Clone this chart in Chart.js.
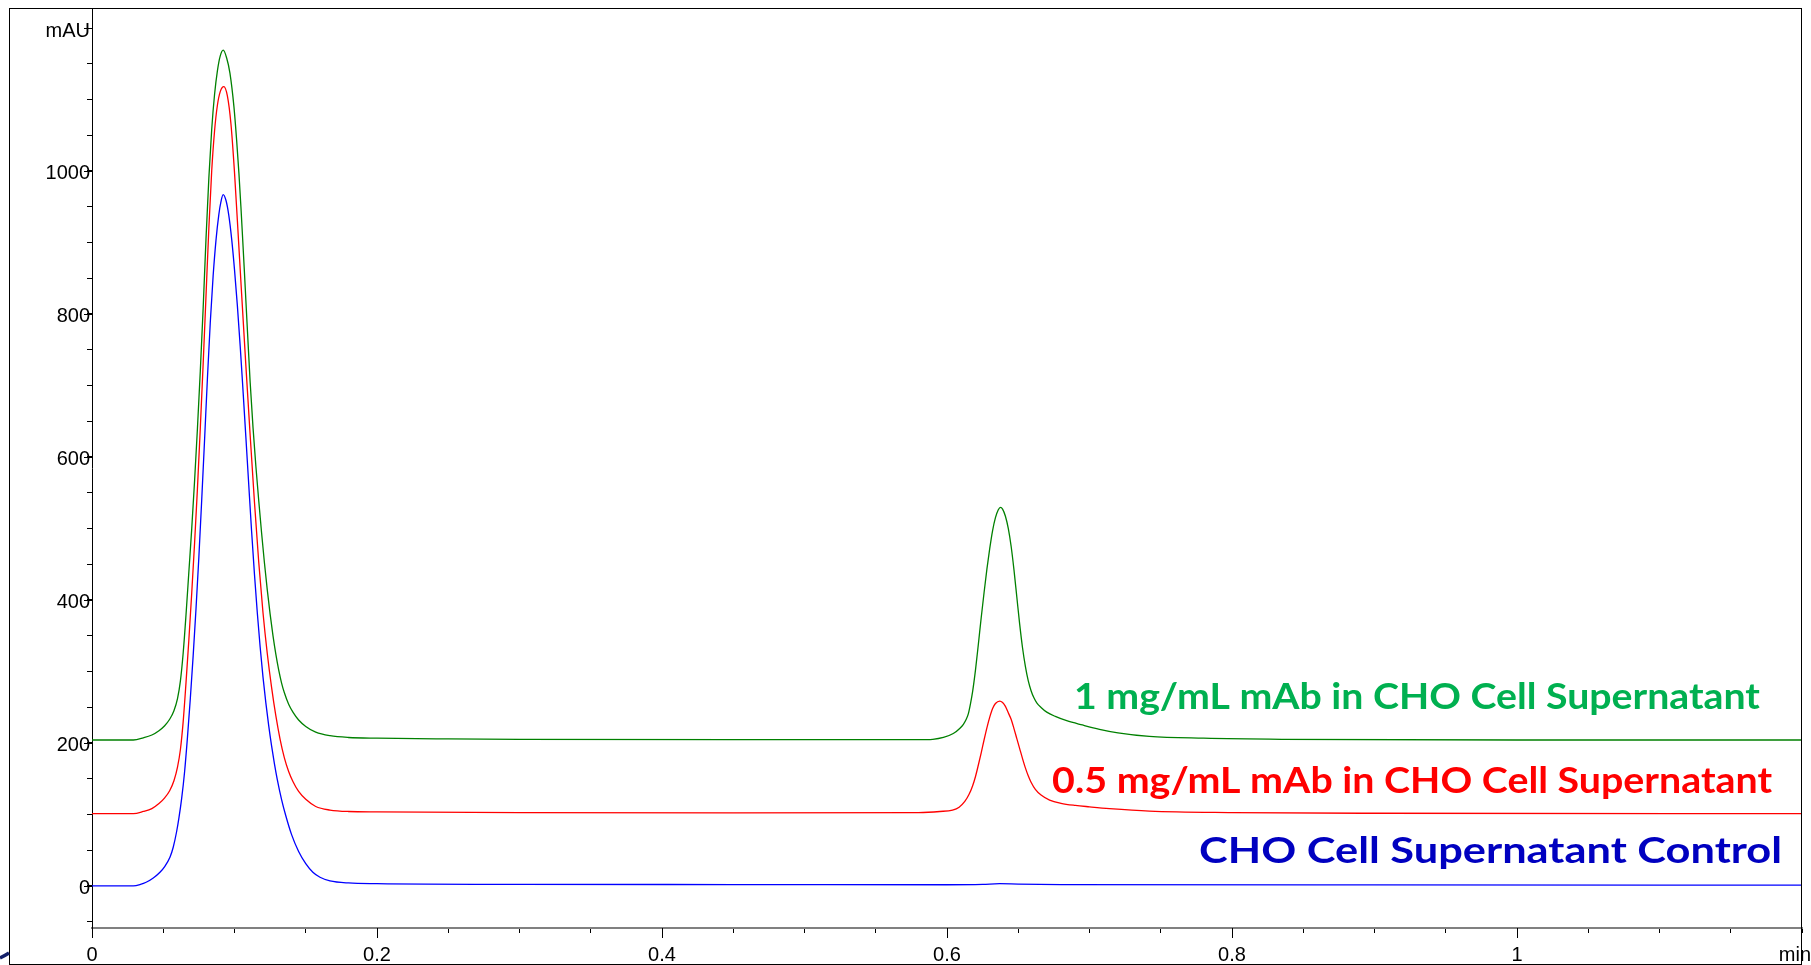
<!DOCTYPE html>
<html>
<head>
<meta charset="utf-8">
<script src="https://cdn.jsdelivr.net/npm/chart.js@4.4.1/dist/chart.umd.min.js"></script>
<style>
    html, body { margin: 0; padding: 0; background: #fff; overflow: hidden; }
    #chart { display: block; }
</style>
</head>
<body>
<canvas id="chart" width="1811" height="965"></canvas>
<script>
// series names (also the text written next to each trace)
const seriesNames = [
    '1 mg/mL mAb in CHO Cell Supernatant',
    '0.5 mg/mL mAb in CHO Cell Supernatant',
    'CHO Cell Supernatant Control'
];
const lineColors = ['#008000', '#ff0000', '#0000ff'];
const labelColors = ['#00b050', '#ff0000', '#0000c0'];

// [retention time (min), absorbance (mAU)]
const greenTrace = [
    [0, 204], [0.029, 204], [0.036, 207], [0.042, 211], [0.047, 217], [0.051, 224], [0.0545, 233], [0.0575, 245],
    [0.060, 262], [0.062, 286], [0.064, 326], [0.066, 380], [0.068, 440], [0.070, 500], [0.072, 567], [0.074, 640],
    [0.076, 720], [0.078, 808], [0.080, 905], [0.082, 990], [0.084, 1058], [0.086, 1107], [0.088, 1140], [0.090, 1161],
    [0.0921, 1169], [0.0945, 1158], [0.0968, 1137], [0.0996, 1090], [0.1015, 1043], [0.1031, 997], [0.1045, 950],
    [0.1057, 906], [0.1069, 861], [0.1080, 818], [0.1092, 772], [0.111, 704], [0.113, 641], [0.115, 587], [0.117, 539],
    [0.119, 494], [0.121, 452], [0.123, 414], [0.125, 380], [0.127, 350], [0.129, 324], [0.131, 302], [0.133, 284],
    [0.135, 270], [0.138, 254], [0.141, 243], [0.145, 232], [0.150, 223], [0.157, 215], [0.167, 210], [0.18, 207.5],
    [0.20, 206.5], [0.25, 205.5], [0.30, 205], [0.45, 204.5], [0.58, 204.5], [0.59, 205], [0.5975, 207.5], [0.6044, 213],
    [0.6091, 220.5], [0.6115, 226], [0.6135, 233], [0.615, 241], [0.6165, 255], [0.618, 272], [0.620, 302], [0.622, 338],
    [0.624, 375], [0.626, 410], [0.628, 443], [0.630, 472], [0.632, 497], [0.634, 515], [0.636, 526], [0.6375, 529.5],
    [0.639, 527], [0.641, 517], [0.643, 500], [0.645, 475], [0.647, 442], [0.649, 404], [0.651, 366], [0.653, 333],
    [0.655, 307], [0.657, 287], [0.659, 273], [0.661, 263], [0.663, 256], [0.666, 249.5], [0.670, 243], [0.676, 237],
    [0.684, 231], [0.695, 225], [0.707, 219], [0.720, 214], [0.742, 209], [0.780, 206.5], [0.835, 205], [1.0, 204], [1.2, 204]
];

const redTrace = [
    [0, 101], [0.029, 101], [0.036, 104], [0.042, 108], [0.047, 115], [0.051, 123], [0.0545, 133], [0.0575, 147],
    [0.060, 166], [0.062, 190], [0.064, 230], [0.066, 285], [0.068, 345], [0.070, 410], [0.072, 480], [0.074, 556],
    [0.076, 640], [0.078, 730], [0.080, 825], [0.082, 920], [0.084, 1000], [0.086, 1056], [0.088, 1092], [0.090, 1111],
    [0.0925, 1118], [0.095, 1105], [0.0975, 1066], [0.100, 998], [0.102, 931], [0.105, 828], [0.108, 727], [0.111, 630],
    [0.114, 537], [0.117, 453], [0.120, 382], [0.123, 325], [0.126, 278], [0.129, 238], [0.132, 205], [0.135, 179],
    [0.138, 160], [0.141, 146], [0.145, 132], [0.150, 121], [0.157, 111], [0.167, 106], [0.18, 104], [0.20, 103.5],
    [0.30, 102.5], [0.45, 102], [0.58, 102.5], [0.595, 104], [0.6039, 106], [0.6085, 110], [0.6125, 118], [0.6155, 128],
    [0.618, 140], [0.620, 153], [0.622, 169], [0.624, 186], [0.626, 204], [0.628, 221], [0.630, 236], [0.632, 248],
    [0.634, 255], [0.637, 258.5], [0.639, 256.5], [0.641, 251], [0.643, 242], [0.645, 233], [0.647, 220], [0.649, 206],
    [0.651, 192], [0.653, 178], [0.655, 165], [0.657, 154], [0.659, 145], [0.662, 135], [0.666, 127], [0.672, 120],
    [0.680, 115.5], [0.690, 112.5], [0.700, 110.5], [0.714, 108], [0.742, 104.5], [0.80, 102.5], [0.90, 101.5], [1.2, 101]
];

const blueTrace = [
    [0, 0], [0.029, 0], [0.034, 2], [0.038, 5], [0.043, 11], [0.0477, 19], [0.051, 27], [0.0547, 40], [0.057, 54],
    [0.0594, 76], [0.061, 95], [0.0629, 122], [0.065, 160], [0.067, 208], [0.069, 262], [0.071, 322], [0.073, 388],
    [0.075, 460], [0.077, 540], [0.079, 624], [0.081, 710], [0.083, 788], [0.085, 853], [0.087, 903], [0.089, 939],
    [0.0905, 957], [0.092, 967], [0.094, 959], [0.096, 938], [0.098, 905], [0.100, 862], [0.102, 812], [0.104, 755],
    [0.106, 692], [0.108, 627], [0.110, 561], [0.112, 496], [0.114, 436], [0.116, 382], [0.118, 334], [0.120, 292],
    [0.122, 256], [0.124, 224], [0.126, 196], [0.128, 171], [0.130, 149], [0.133, 121], [0.136, 98], [0.140, 72],
    [0.145, 48], [0.150, 31], [0.155, 19], [0.160, 12], [0.167, 7], [0.18, 4], [0.20, 3], [0.30, 2], [0.45, 1.8],
    [0.60, 1.5], [0.625, 2], [0.637, 3], [0.65, 2.5], [0.68, 1.8], [0.90, 1.2], [1.2, 1]
];

// axis ticks
const xTickValues = [0, 0.05, 0.1, 0.15, 0.2, 0.25, 0.3, 0.35, 0.4, 0.45, 0.5, 0.55, 0.6, 0.65, 0.7, 0.75, 0.8, 0.85, 0.9, 0.95, 1, 1.05, 1.1, 1.15, 1.2];
const xLabelValues = [0, 0.2, 0.4, 0.6, 0.8, 1];
const xLabelText = ['0', '0.2', '0.4', '0.6', '0.8', '1'];
const xUnit = 'min';
const yTickValues = [-50, 0, 50, 100, 150, 200, 250, 300, 350, 400, 450, 500, 550, 600, 650, 700, 750, 800, 850, 900, 950, 1000, 1050, 1100, 1150, 1200];
const yLabelValues = [0, 200, 400, 600, 800, 1000, 1200];
const yLabelText = ['0', '200', '400', '600', '800', '1000', 'mAU'];

// where each trace name sits: right end (min) and baseline (mAU), and its drawn width in px
const labelAnchors = [{ x: 1.1705, y: 247 }, { x: 1.179, y: 130 }, { x: 1.186, y: 32 }];
const labelWidths = [686, 720, 583];

const tickFont = { family: '"Liberation Sans", Arial, sans-serif', size: 20 };

function labelFor(values, texts, v) {
    const i = values.findIndex(l => Math.abs(l - v) < 1e-6);
    return i >= 0 ? texts[i] : '';
}

const extras = {
    id: 'extras',
    afterDraw(chart) {
        const ctx = chart.ctx;
        const xs = chart.scales.x;
        const ys = chart.scales.y;
        ctx.save();

        // longer ticks at the labelled values
        ctx.strokeStyle = '#000';
        ctx.lineWidth = 1;
        ctx.beginPath();
        xLabelValues.forEach(v => {
            const px = Math.round(xs.getPixelForValue(v)) + 0.5;
            ctx.moveTo(px, xs.top);
            ctx.lineTo(px, xs.top + 10);
        });
        yLabelValues.forEach(v => {
            const py = Math.round(ys.getPixelForValue(v)) + 0.5;
            ctx.moveTo(ys.right - 8, py);
            ctx.lineTo(ys.right, py);
        });
        ctx.stroke();

        // x unit at the right end
        ctx.font = '20px ' + tickFont.family;
        ctx.fillStyle = '#000';
        ctx.textAlign = 'right';
        ctx.textBaseline = 'alphabetic';
        ctx.fillText(xUnit, 1811, 961);

        // outer frame
        ctx.strokeStyle = '#000';
        ctx.strokeRect(9.5, 8.5, 1792, 956);

        // bit of the slide logo peeking in at the lower left
        ctx.strokeStyle = '#14206a';
        ctx.lineWidth = 3.5;
        ctx.beginPath();
        ctx.moveTo(0, 958);
        ctx.quadraticCurveTo(5, 955.5, 9, 953);
        ctx.stroke();

        // trace names
        ctx.font = 'bold 36px Lato, "Open Sans", sans-serif';
        seriesNames.forEach((name, i) => {
            const rx = xs.getPixelForValue(labelAnchors[i].x);
            const by = ys.getPixelForValue(labelAnchors[i].y);
            const w = ctx.measureText(name).width;
            ctx.save();
            ctx.translate(rx, by);
            ctx.scale(labelWidths[i] / w, 1);
            ctx.textAlign = 'right';
            ctx.fillStyle = labelColors[i];
            ctx.fillText(name, 0, 0);
            ctx.restore();
        });
        ctx.restore();
    }
};

const series = [greenTrace, redTrace, blueTrace];

new Chart(document.getElementById('chart').getContext('2d'), {
    type: 'line',
    data: {
        datasets: series.map((trace, i) => ({
            label: seriesNames[i],
            data: trace.map(p => ({ x: p[0], y: p[1] })),
            borderColor: lineColors[i],
            borderWidth: 1.3,
            pointRadius: 0,
            fill: false,
            cubicInterpolationMode: 'monotone'
        }))
    },
    options: {
        responsive: false,
        animation: false,
        events: [],
        layout: { padding: { left: 0, right: 9, top: 8, bottom: 0 } },
        plugins: { legend: { display: false }, tooltip: { enabled: false } },
        scales: {
            x: {
                type: 'linear',
                min: 0,
                max: 1.2,
                afterBuildTicks: s => { s.ticks = xTickValues.map(v => ({ value: v })); },
                afterFit: s => { s.height = 37; s.paddingLeft = 0; s.paddingRight = 0; },
                border: { color: '#808080', width: 2 },
                grid: { drawOnChartArea: false, tickLength: 5, tickColor: '#000', tickWidth: 1 },
                ticks: {
                    autoSkip: false,
                    maxRotation: 0,
                    padding: 10,
                    color: '#000',
                    font: tickFont,
                    callback: v => labelFor(xLabelValues, xLabelText, v)
                }
            },
            y: {
                min: -59,
                max: 1228,
                afterBuildTicks: s => { s.ticks = yTickValues.map(v => ({ value: v })); },
                afterFit: s => { s.width = 92; s.paddingTop = 0; s.paddingBottom = 0; },
                border: { color: '#000', width: 1 },
                grid: { drawOnChartArea: false, tickLength: 5, tickColor: '#000', tickWidth: 1 },
                ticks: {
                    autoSkip: false,
                    padding: -3,
                    labelOffset: 3,
                    color: '#000',
                    font: tickFont,
                    callback: v => labelFor(yLabelValues, yLabelText, v)
                }
            }
        }
    },
    plugins: [extras]
});
</script>
</body>
</html>
